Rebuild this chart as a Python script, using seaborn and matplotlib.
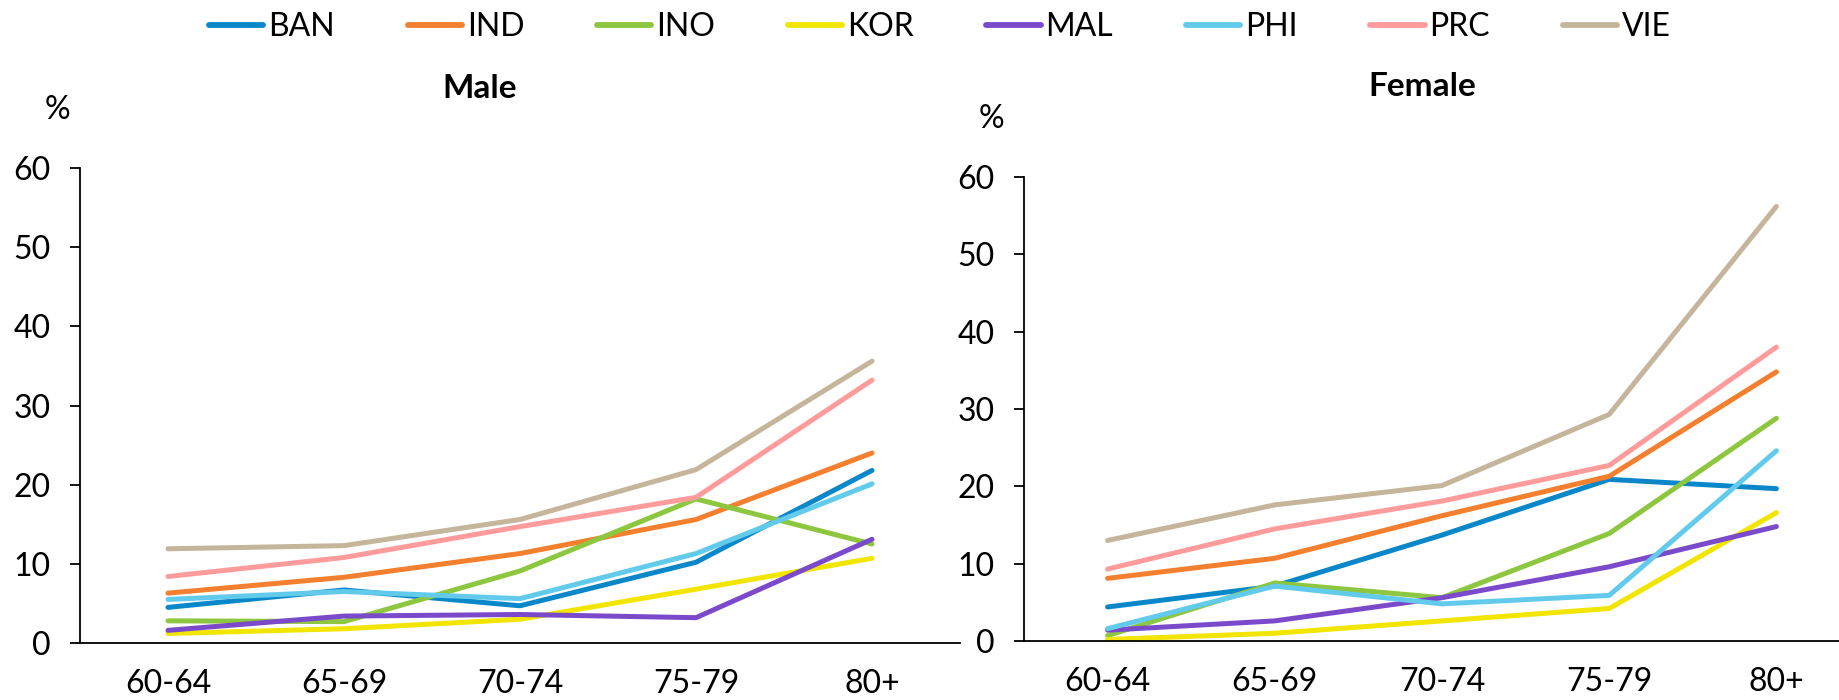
import numpy as np
import pandas as pd
import matplotlib
matplotlib.use("Agg")
import matplotlib.pyplot as plt
import seaborn as sns

ages = ["60-64", "65-69", "70-74", "75-79", "80+"]
countries = ["BAN", "IND", "INO", "KOR", "MAL", "PHI", "PRC", "VIE"]
colors = ["#0A87C9", "#F47F2E", "#8DC63F", "#F2E500", "#7B4ACB", "#62CBEC", "#FF9B9B", "#C4B59B"]

male_BAN = [4.5, 6.7, 4.7, 10.2, 21.8]
male_IND = [6.3, 8.3, 11.3, 15.6, 24.0]
male_INO = [2.8, 2.7, 9.1, 18.2, 12.5]
male_KOR = [1.2, 1.8, 3.0, 6.8, 10.7]
male_MAL = [1.6, 3.4, 3.6, 3.2, 13.1]
male_PHI = [5.5, 6.5, 5.6, 11.3, 20.1]
male_PRC = [8.4, 10.8, 14.7, 18.4, 33.2]
male_VIE = [11.9, 12.3, 15.6, 21.9, 35.6]

female_BAN = [4.4, 7.1, 13.7, 20.9, 19.7]
female_IND = [8.1, 10.7, 16.2, 21.3, 34.8]
female_INO = [0.7, 7.5, 5.6, 13.9, 28.8]
female_KOR = [0.2, 1.0, 2.6, 4.2, 16.6]
female_MAL = [1.4, 2.6, 5.6, 9.6, 14.8]
female_PHI = [1.6, 7.1, 4.8, 5.9, 24.6]
female_PRC = [9.3, 14.5, 18.1, 22.7, 38.0]
female_VIE = [13.0, 17.6, 20.1, 29.3, 56.2]

male = [male_BAN, male_IND, male_INO, male_KOR, male_MAL, male_PHI, male_PRC, male_VIE]
female = [female_BAN, female_IND, female_INO, female_KOR, female_MAL, female_PHI, female_PRC, female_VIE]

rows = []
for sex, series in (("Male", male), ("Female", female)):
    for c, vals in zip(countries, series):
        for a, v in zip(ages, vals):
            rows.append({"sex": sex, "country": c, "age": a, "value": v})
df = pd.DataFrame(rows)

sns.set_theme(style="white")
plt.rcParams["font.family"] = ["Lato", "DejaVu Sans"]
plt.rcParams["text.color"] = "black"

W, H = 1839, 700
fig = plt.figure(figsize=(W / 100, H / 100), dpi=100)

def px_axes(x0, top, x1, bottom):
    return fig.add_axes([x0 / W, 1 - bottom / H, (x1 - x0) / W, (bottom - top) / H])

ax1 = px_axes(80, 168, 960, 643)
ax2 = px_axes(1024, 177, 1860, 641)
palette = dict(zip(countries, colors))

FS = 23

for ax, sex in ((ax1, "Male"), (ax2, "Female")):
    sub = df[df["sex"] == sex]
    sns.lineplot(data=sub, x="age", y="value", hue="country", hue_order=countries,
                 palette=palette, sort=False, legend=False, ax=ax, linewidth=3.6,
                 solid_capstyle="round", solid_joinstyle="round")
    ax.set_xlim(-0.5, 4.5)
    ax.set_ylim(0, 60)
    ax.set_yticks(range(0, 61, 10))
    ax.set_xlabel("")
    ax.set_ylabel("")
    for s in ("top", "right"):
        ax.spines[s].set_visible(False)
    for s in ("left", "bottom"):
        ax.spines[s].set_color("black")
        ax.spines[s].set_linewidth(1.3)
    ax.tick_params(axis="y", which="both", left=True, length=7, width=1.3, color="black",
                   pad=14, labelsize=FS, labelcolor="black")
    ax.tick_params(axis="x", which="both", bottom=False, length=0, pad=19,
                   labelsize=FS, labelcolor="black")
    ax.grid(False)

fig.text(480 / W, 1 - 89 / H, "Male", ha="center", va="center", fontsize=24, fontweight="bold")
fig.text(1422 / W, 1 - 87 / H, "Female", ha="center", va="center", fontsize=24, fontweight="bold")
fig.text(57 / W, 1 - 110 / H, "%", ha="center", va="center", fontsize=FS)
fig.text(991 / W, 1 - 119 / H, "%", ha="center", va="center", fontsize=FS)

handles = ax1.get_lines()[:len(countries)]
leg = fig.legend(handles, countries, loc="center", bbox_to_anchor=(940 / W, 1 - 27 / H),
                 ncol=8, frameon=False, fontsize=FS, handlelength=1.7,
                 handletextpad=0.15, columnspacing=2.28, borderaxespad=0)
for h in leg.get_lines():
    h.set_linewidth(4.2)
    h.set_solid_capstyle("round")

fig.savefig("out.png", dpi=100)
